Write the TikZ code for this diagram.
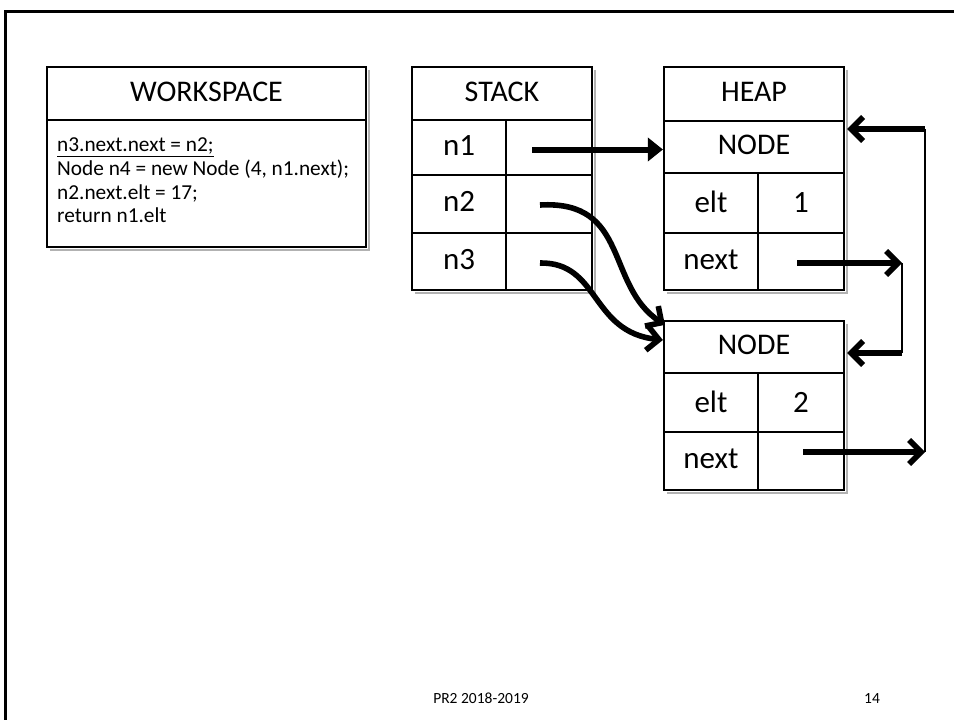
\documentclass[tikz,border=0pt]{standalone}
\usepackage{fontspec}
\setmainfont{Carlito}
\usetikzlibrary{arrows.meta}
\begin{document}
\begin{tikzpicture}[x=1pt,y=-1pt,
  cell/.style 2 args={draw, line width=2.2pt, inner sep=0pt, minimum width=#1, minimum height=#2,
    font=\fontsize{31}{36}\selectfont, text height=21pt, text depth=6pt},
  head/.style={font=\fontsize{30}{36}\selectfont},
  low/.style={text height=23pt, text depth=4pt},
  shadow/.style={draw=black!30, line width=2pt},
  code/.style={inner sep=0pt, anchor=base west, font=\fontsize{21.3}{24}\selectfont},
  foot/.style={inner sep=0pt, anchor=base, font=\fontsize{15.5}{18}\selectfont},
  ptr/.style={line width=5.6pt, -{Straight Barb[length=12pt,width=24pt]}},
  fptr/.style={line width=6pt, -{Triangle[length=15pt,width=23pt]}},
  link/.style={line width=2.5pt},
  frame/.style={line width=3pt}]
\useasboundingbox (0,0) rectangle (954,720);
% slide frame
\coordinate (fbl) at (5.5,722);
\coordinate (ftl) at (5.5,11);
\coordinate (ftr) at (956,11);
\draw[frame] (fbl) -- (ftl) -- (ftr);

% soft shadows of the boxes
\coordinate (s1a) at (49.5,69.5);  \coordinate (s1b) at (368.5,249.5);
\coordinate (s2a) at (414.5,69.5); \coordinate (s2b) at (594.5,292.5);
\coordinate (s3a) at (666.5,69.5); \coordinate (s3b) at (846.5,292.5);
\coordinate (s4a) at (666.5,323.5);\coordinate (s4b) at (846.5,492.5);
\draw[shadow] (s1a -| s1b) -- (s1b) -- (s1a |- s1b);
\draw[shadow] (s2a -| s2b) -- (s2b) -- (s2a |- s2b);
\draw[shadow] (s3a -| s3b) -- (s3b) -- (s3a |- s3b);
\draw[shadow] (s4a -| s4b) -- (s4b) -- (s4a |- s4b);

% WORKSPACE
\node[cell={319pt}{53pt}, head] (wsh) at (206.5,93.5) {WORKSPACE};
\node[cell={319pt}{127pt}] (wsb) at (206.5,183.5) {};
\node[code] (l1) at (57,151.7) {\underline{n3.next.next = n2;}};
\node[code] (l2) at (57,175.5) {Node n4 = new Node (4, n1.next);};
\node[code] (l3) at (57,199.2) {n2.next.elt = 17;};
\node[code] (l4) at (57,222.8) {return n1.elt};

% STACK
\node[cell={180pt}{53pt}, head] (sth) at (502,93.5) {STACK};
\node[cell={94pt}{55pt}] (n1l) at (459,147.5) {n1};
\node[cell={86pt}{55pt}] (n1v) at (549,147.5) {};
\node[cell={94pt}{58pt}] (n2l) at (459,204) {n2};
\node[cell={86pt}{58pt}] (n2v) at (549,204) {};
\node[cell={94pt}{57pt}] (n3l) at (459,261.5) {n3};
\node[cell={86pt}{57pt}] (n3v) at (549,261.5) {};

% HEAP
\node[cell={180pt}{54pt}, head] (hph) at (754,94) {HEAP};
\node[cell={180pt}{52pt}, head] (nd1) at (754,147) {NODE};
\node[cell={94pt}{60pt}, low] (e1l) at (711,203) {elt};
\node[cell={86pt}{60pt}, low] (e1v) at (801,203) {1};
\node[cell={94pt}{57pt}] (x1l) at (711,261.5) {next};
\node[cell={86pt}{57pt}] (x1v) at (801,261.5) {};

\node[cell={180pt}{52pt}, head] (nd2) at (754,347) {NODE};
\node[cell={94pt}{59pt}, low] (e2l) at (711,402.5) {elt};
\node[cell={86pt}{59pt}, low] (e2v) at (801,402.5) {2};
\node[cell={94pt}{58pt}] (x2l) at (711,461) {next};
\node[cell={86pt}{58pt}] (x2v) at (801,461) {};

% stack pointers
\draw[fptr] ([xshift=-17pt,yshift=-2pt]n1v.center) -- (nd1.west |- 0,149.5);
\draw[ptr] ([xshift=-9pt,yshift=-1pt]n2v.center) .. controls (630,200) and (605,285) .. ([xshift=2pt,yshift=-5pt]nd2.north west);
\draw[ptr] ([xshift=-9pt,yshift=-1.5pt]n3v.center) .. controls (600,262) and (590,332) .. (nd2.west |- 0,340);

% heap links
\coordinate (a1) at (902,263);
\coordinate (a2) at (902,353);
\draw[ptr] ([xshift=-4pt,yshift=-1.5pt]x1v.center) -- (a1);
\draw[link] (a1) -- (a2);
\draw[ptr] (a2) -- ([xshift=2pt]nd2.east |- a2);

\coordinate (b1) at (925,452);
\coordinate (b2) at (925,129);
\draw[ptr] ([xshift=2pt,yshift=9pt]x2v.center) -- (b1);
\draw[link] (b1) -- (b2);
\draw[ptr] (b2) -- ([xshift=2pt]nd1.east |- b2);

% footer
\node[foot] (ft) at (481,703) {PR2 2018-2019};
\node[foot] (pg) at (872,703) {14};
\end{tikzpicture}
\end{document}
